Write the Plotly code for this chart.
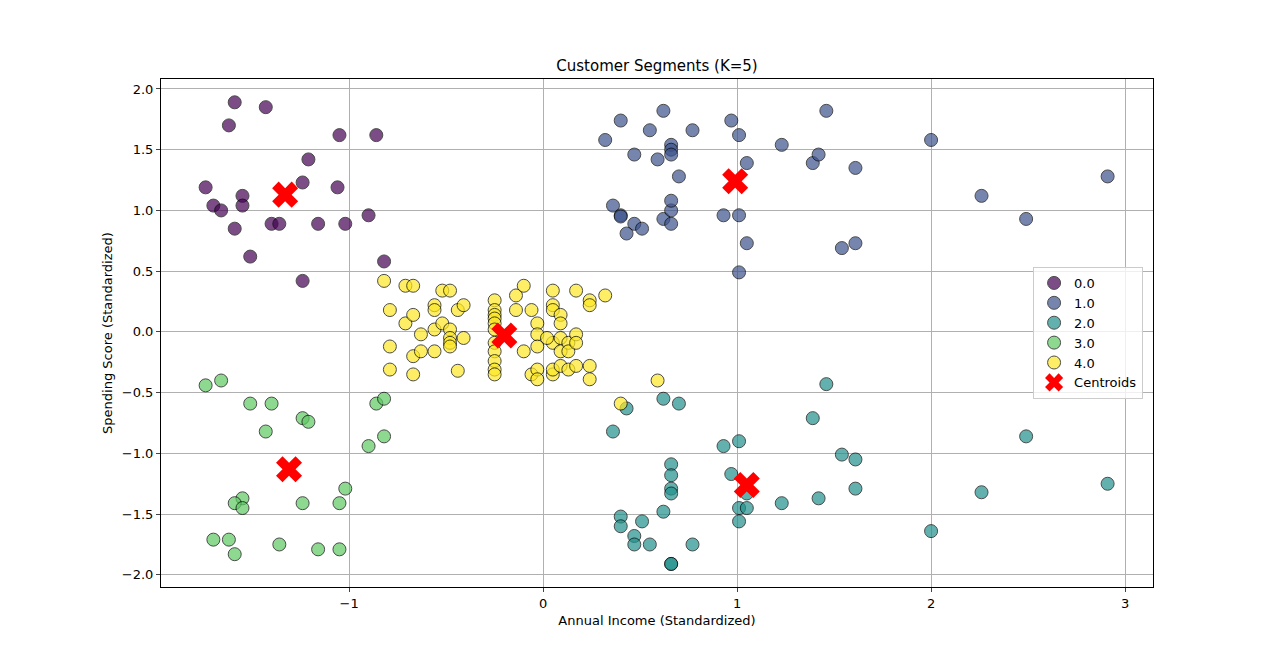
import plotly.graph_objects as go

c0_x=[-1.59,-1.43,-1.62,-1.05,-0.86,-1.21,-1.74,-1.06,-1.24,-1.55,-1.70,-1.55,-1.66,-0.90,-1.40,-1.36,-1.16,-1.02,-1.59,-1.51,-0.82,-1.24]
c0_y=[1.89,1.85,1.70,1.62,1.62,1.42,1.19,1.19,1.23,1.12,1.04,1.04,1.00,0.96,0.89,0.89,0.89,0.89,0.85,0.62,0.58,0.42]
c1_x=[0.32,0.40,0.62,0.55,0.77,0.47,0.59,0.66,0.66,0.66,0.70,0.97,1.01,1.05,1.23,1.39,1.42,1.46,1.61,2.00,2.26,2.91,2.49,0.36,0.40,0.40,0.47,0.43,0.51,0.62,0.66,0.66,0.66,0.93,1.01,1.05,1.01,1.54,1.61]
c1_y=[1.58,1.74,1.82,1.66,1.66,1.46,1.42,1.54,1.50,1.46,1.28,1.74,1.62,1.39,1.54,1.39,1.46,1.82,1.35,1.58,1.12,1.28,0.93,1.04,0.96,0.95,0.89,0.81,0.85,0.93,1.00,1.08,0.89,0.96,0.96,0.73,0.49,0.69,0.73]
c2_x=[0.43,0.36,0.62,0.70,1.46,1.39,0.93,1.01,1.54,1.61,0.66,0.66,0.97,0.66,0.66,1.05,1.01,1.05,1.01,1.23,1.42,1.61,0.62,0.51,0.40,0.40,0.47,0.47,0.55,0.77,0.66,0.66,2.49,2.26,2.91,2.00]
c2_y=[-0.63,-0.82,-0.55,-0.59,-0.43,-0.71,-0.94,-0.90,-1.01,-1.05,-1.09,-1.18,-1.17,-1.29,-1.33,-1.33,-1.45,-1.45,-1.56,-1.41,-1.37,-1.29,-1.48,-1.56,-1.52,-1.60,-1.68,-1.75,-1.75,-1.75,-1.91,-1.91,-0.86,-1.32,-1.25,-1.64]
c3_x=[-1.74,-1.66,-1.51,-1.40,-1.43,-1.24,-1.21,-0.86,-0.82,-0.82,-0.90,-1.02,-1.05,-1.24,-1.55,-1.59,-1.55,-1.70,-1.62,-1.59,-1.36,-1.16,-1.05]
c3_y=[-0.44,-0.40,-0.59,-0.59,-0.82,-0.71,-0.74,-0.59,-0.55,-0.86,-0.94,-1.29,-1.41,-1.41,-1.37,-1.41,-1.45,-1.71,-1.71,-1.83,-1.75,-1.79,-1.79]
c4_x=[-0.82,-0.71,-0.67,-0.79,-0.71,-0.67,-0.63,-0.67,-0.63,-0.67,-0.79,-0.79,-0.56,-0.56,-0.56,-0.56,-0.52,-0.52,-0.48,-0.48,-0.48,-0.48,-0.48,-0.44,-0.41,-0.44,-0.41,
      -0.25,-0.25,-0.25,-0.25,-0.25,-0.25,-0.25,-0.25,-0.25,-0.25,-0.25,-0.14,-0.14,-0.10,-0.10,-0.06,-0.06,-0.03,-0.03,-0.03,-0.03,-0.03,
      0.05,0.05,0.05,0.05,0.05,0.05,0.02,0.09,0.09,0.09,0.09,0.09,0.13,0.13,0.13,0.17,0.17,0.17,0.17,0.24,0.24,0.24,0.24,0.32,0.59,0.40]
c4_y=[0.42,0.38,0.38,0.18,0.07,0.14,-0.02,-0.20,-0.16,-0.35,-0.12,-0.31,0.22,0.18,0.02,-0.16,0.07,0.34,0.34,0.02,-0.05,-0.09,-0.12,0.18,0.22,-0.32,-0.05,
      0.26,0.18,0.14,0.11,0.07,0.02,-0.09,-0.16,-0.24,-0.31,-0.35,0.18,0.30,0.38,-0.16,0.18,-0.35,0.07,-0.02,-0.12,-0.31,-0.39,
      0.34,0.22,0.18,-0.09,-0.35,-0.31,-0.05,0.14,0.07,-0.05,-0.16,-0.28,-0.09,-0.16,-0.31,0.34,-0.02,-0.09,-0.28,0.26,0.22,-0.28,-0.39,0.30,-0.40,-0.59]
cent_x=[-1.33,0.99,1.05,-1.31,-0.20]
cent_y=[1.13,1.24,-1.26,-1.13,-0.03]
labels=["0.0","1.0","2.0","3.0","4.0"]
colors=["#440154","#3b528b","#21918c","#5ec962","#fde725"]

fig=go.Figure()
for lab,col,xs,ys in zip(labels,colors,[c0_x,c1_x,c2_x,c3_x,c4_x],[c0_y,c1_y,c2_y,c3_y,c4_y]):
    fig.add_trace(go.Scatter(x=xs,y=ys,mode="markers",name=lab,
        marker=dict(size=13,color=col,opacity=0.7,line=dict(color="black",width=1))))
fig.add_trace(go.Scatter(x=cent_x,y=cent_y,mode="markers",name="Centroids",
    marker=dict(symbol="x",size=23,color="red",line=dict(width=0))))

ax=dict(showline=True,linecolor="black",mirror=True,ticks="outside",ticklen=4,
        showgrid=True,gridcolor="#b0b0b0",zeroline=False,tickfont=dict(size=13,color="black"))
fig.update_layout(width=1280,height=660,plot_bgcolor="white",paper_bgcolor="white",
    font=dict(family="DejaVu Sans",size=13,color="black"),
    margin=dict(l=153,r=135,t=71,b=81),
    title=dict(text="Customer Segments (K=5)",x=0.5,xref="paper",y=0.905,yanchor="bottom",font=dict(size=15)),
    xaxis=dict(ax,range=[-1.97,3.144],tickvals=[-1,0,1,2,3],ticktext=["−1","0","1","2","3"],
               title=dict(text="Annual Income (Standardized)",standoff=6,font=dict(size=13))),
    yaxis=dict(ax,range=[-2.10,2.082],tickvals=[-2,-1.5,-1,-0.5,0,0.5,1,1.5,2],
               ticktext=["−2.0","−1.5","−1.0","−0.5","0.0","0.5","1.0","1.5","2.0"],
               title=dict(text="Spending Score (Standardized)",standoff=6,font=dict(size=13))),
    legend=dict(x=0.99,y=0.63,xanchor="right",yanchor="top",bordercolor="#cccccc",borderwidth=1,
                bgcolor="rgba(255,255,255,0.8)",font=dict(size=13)))
fig.write_html("out.html")
